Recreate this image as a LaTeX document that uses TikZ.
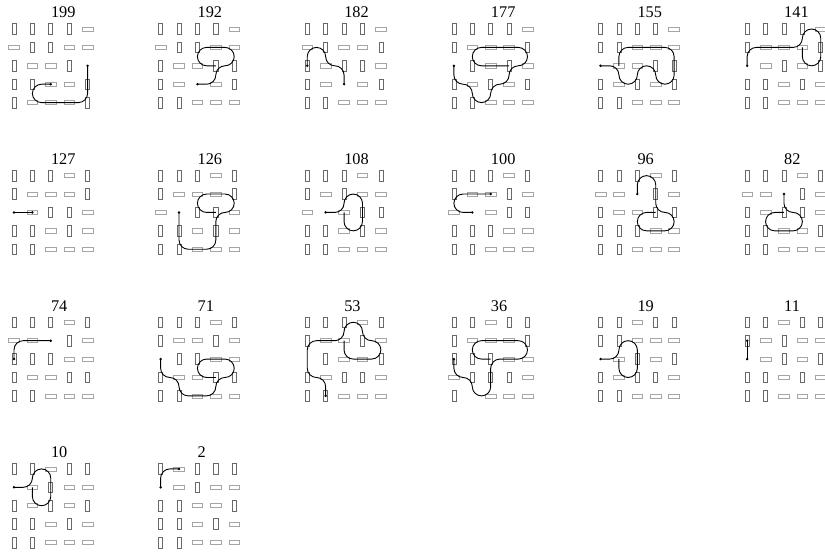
\documentclass[tikz,border=0pt]{standalone}
\usepackage{fontspec}
\setmainfont{Liberation Serif}
\usepackage{tikz}
\definecolor{vgray}{RGB}{105,105,105}
\definecolor{hgray}{RGB}{165,165,165}

\newcommand{\numfont}{\fontsize{12.6}{14}\selectfont}
% one 5x5 board: #1 column, #2 row of the board, #3 its number, #4 the 25 cells
\newcommand{\board}[4]{%
  \begin{scope}[shift={({0.76+7.97*#1},{-1.576-7.97*#2})}]
    \node[numlabel] (n#3) at (2,0.6) {#3};
    \foreach \kind [count=\k from 0] in {#4} {
      \pgfmathtruncatemacro{\cc}{mod(\k,5)}
      \pgfmathtruncatemacro{\rr}{int(\k/5)}
      \node[cell/.expanded=\kind] (c#3-\cc-\rr) at (\cc,-\rr) {};
    }
  \end{scope}}
% path through the cells of board #1, from cell #2 over the list #3
\newcommand{\trail}[3]{\draw[trailline] (c#1-#2.center) \foreach \p in {#3} { -- (c#1-\p.center) };}
\newcommand{\spot}[2]{\fill (c#1-#2.center) circle[radius=1.05pt];}

\begin{document}
\begin{tikzpicture}[
    x=0.5cm, y=0.5cm,
    numlabel/.style={anchor=base west, inner sep=0pt, font=\numfont},
    cell/.style={cell#1},
    cellV/.style={draw=vgray, line width=0.5pt, inner sep=0pt, minimum width=0.11cm, minimum height=0.29cm},
    cellH/.style={draw=hgray, line width=0.5pt, inner sep=0pt, minimum width=0.29cm, minimum height=0.11cm},
    cellO/.style={inner sep=0pt, minimum size=0pt},
    trailline/.style={black, line width=0.7pt, rounded corners=0.25cm}
]
\useasboundingbox (0,0) rectangle (44.84,-30.05);

% first row of boards
\board{0}{0}{199}{V,V,V,V,H,H,V,V,H,H,V,H,H,V,O,V,V,H,H,V,V,H,H,H,V}
\trail{199}{4-2}{4-4,1-4,1-3,2-3}
\spot{199}{4-2} \spot{199}{2-3}

\board{1}{0}{192}{V,V,V,V,H,H,V,V,H,H,V,H,H,V,V,V,H,O,H,V,V,V,H,H,H}
\trail{192}{2-3}{3-3,3-2,4-2,4-1,2-1,2-2,3-2}
\spot{192}{2-3}

\board{2}{0}{182}{V,V,V,V,H,H,V,H,H,V,V,H,V,V,H,V,H,O,H,V,V,V,H,H,H}
\trail{182}{0-2}{0-1,1-1,1-2,2-2,2-3}
\spot{182}{0-2} \spot{182}{2-3}

\board{3}{0}{177}{V,V,V,V,H,V,H,H,H,V,O,V,H,V,H,V,H,V,H,V,V,V,H,H,H}
\trail{177}{0-2}{0-3,1-3,1-4,2-4,2-3,3-3,3-2,4-2,4-1,1-1,1-2,3-2}
\spot{177}{0-2}

\board{4}{0}{155}{V,V,V,V,H,V,V,H,H,H,O,H,H,V,V,V,H,V,H,V,V,V,H,H,H}
\trail{155}{0-2}{1-2,1-3,2-3,2-2,3-2,3-3,4-3,4-1,1-1,1-2}
\spot{155}{0-2}

\board{5}{0}{141}{V,V,V,V,H,V,H,H,H,V,O,H,V,H,V,V,V,H,V,H,V,V,H,H,H}
\trail{141}{0-2}{0-1,3-1,3-0,4-0,4-2,3-2,3-1}
\spot{141}{0-2}

% second row of boards
\board{0}{1}{127}{V,V,V,H,V,V,H,H,H,V,O,H,V,V,H,V,V,H,V,H,V,V,H,H,H}
\trail{127}{0-2}{1-2}
\spot{127}{0-2} \spot{127}{1-2}

\board{1}{1}{126}{V,V,V,H,V,V,H,H,H,V,H,O,V,V,H,V,V,H,V,H,V,V,H,H,H}
\trail{126}{1-2}{1-4,3-4,3-2,4-2,4-1,2-1,2-2,3-2}
\spot{126}{1-2}

\board{2}{1}{108}{V,V,V,H,V,V,H,V,H,H,H,O,H,V,V,V,V,H,V,H,V,V,H,H,H}
\trail{108}{1-2}{2-2,2-1,3-1,3-3,2-3,2-2}
\spot{108}{1-2}

\board{3}{1}{100}{V,V,V,H,V,V,H,H,V,H,H,O,H,V,V,V,V,V,H,H,V,V,H,H,H}
\trail{100}{1-2}{0-2,0-1,2-1}
\spot{100}{1-2} \spot{100}{2-1}

\board{4}{1}{96}{V,V,V,H,V,H,H,O,V,H,V,H,H,V,V,V,V,V,H,H,V,V,H,H,H}
\trail{96}{2-1}{2-0,3-0,3-2,4-2,4-3,2-3,2-2,3-2}
\spot{96}{2-1}

\board{5}{1}{82}{V,V,V,H,V,H,H,O,V,H,V,H,V,V,H,V,V,H,H,V,V,V,H,H,H}
\trail{82}{2-1}{2-2,3-2,3-3,1-3,1-2,2-2}
\spot{82}{2-1}

% third row of boards
\board{0}{2}{74}{V,V,V,H,V,H,H,O,V,H,V,V,V,H,H,V,H,H,V,V,V,V,H,H,H}
\trail{74}{2-1}{0-1,0-2}
\spot{74}{2-1} \spot{74}{0-2}

\board{1}{2}{71}{V,V,V,H,V,V,H,H,V,H,O,V,V,H,H,V,H,H,V,V,V,V,H,H,H}
\trail{71}{0-2}{0-3,1-3,1-4,3-4,3-3,4-3,4-2,2-2,2-3,3-3}
\spot{71}{0-2}

\board{2}{2}{53}{V,V,V,H,V,V,H,H,V,H,O,V,H,H,V,V,H,V,V,H,V,V,H,H,H}
\trail{53}{1-4}{1-3,0-3,0-1,2-1,2-0,3-0,3-1,4-1,4-2,2-2,2-1}
\spot{53}{1-4}

\board{3}{2}{36}{V,V,H,V,V,V,H,H,H,V,V,V,V,H,H,H,V,V,V,H,V,O,H,H,H}
\trail{36}{0-2}{0-3,1-3,1-4,2-4,2-2,4-2,4-1,1-1,1-2,2-2}
\spot{36}{0-2}

\board{4}{2}{19}{V,V,H,V,V,V,V,H,H,H,O,H,V,H,V,V,H,V,V,H,V,V,H,H,H}
\trail{19}{0-2}{1-2,1-1,2-1,2-3,1-3,1-2}
\spot{19}{0-2}

\board{5}{2}{11}{V,V,H,V,V,V,H,V,H,H,O,H,V,H,V,V,V,H,V,H,V,V,H,H,H}
\trail{11}{0-2}{0-1}
\spot{11}{0-2} \spot{11}{0-1}

% last row
\board{0}{3}{10}{V,V,H,V,V,O,H,V,H,H,V,H,V,H,V,V,V,H,V,H,V,V,H,H,H}
\trail{10}{0-1}{1-1,1-0,2-0,2-2,1-2,1-1}
\spot{10}{0-1}

\board{1}{3}{2}{V,H,V,V,V,O,H,V,H,H,V,V,H,H,V,V,V,H,V,H,V,V,H,H,H}
\trail{2}{0-1}{0-0,1-0}
\spot{2}{0-1} \spot{2}{1-0}

\end{tikzpicture}
\end{document}
